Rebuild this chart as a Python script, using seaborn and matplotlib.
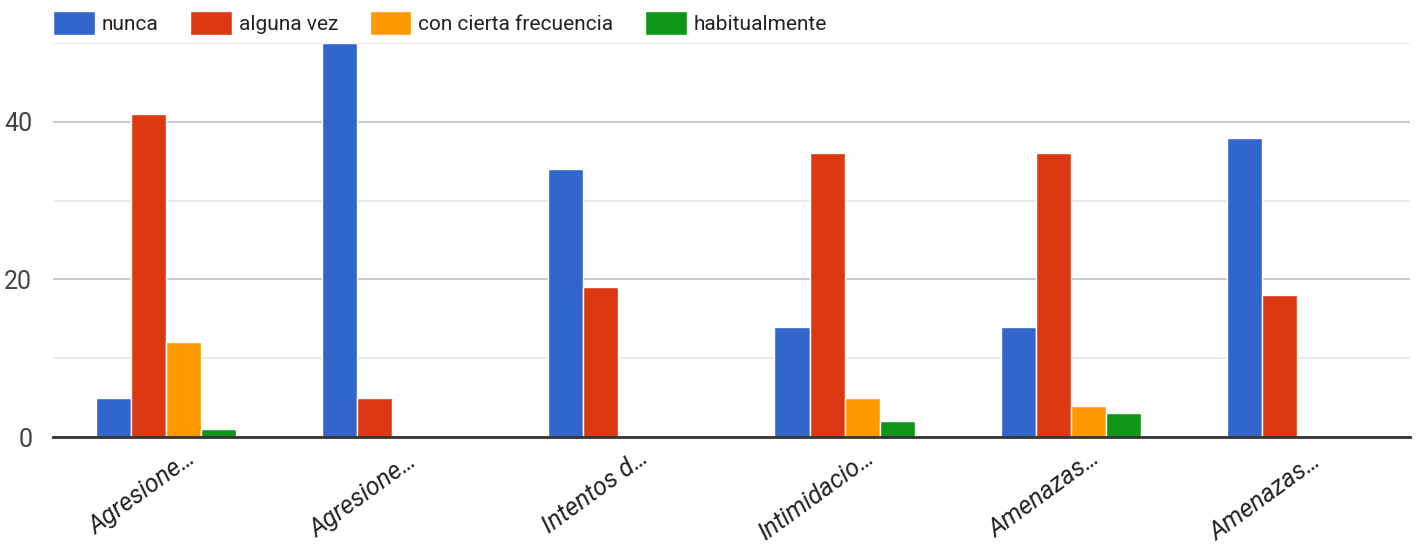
import matplotlib
matplotlib.use("Agg")
import matplotlib.pyplot as plt
import matplotlib.transforms as mtransforms
from matplotlib.patches import Patch
import pandas as pd
import seaborn as sns

# data
categories = ["Agresione…", "Agresione… ", "Intentos d…", "Intimidacio…", "Amenazas…", "Amenazas… "]
series = ["nunca", "alguna vez", "con cierta frecuencia", "habitualmente"]
nunca = [5, 50, 34, 14, 14, 38]
alguna_vez = [41, 5, 19, 36, 36, 18]
con_cierta_frecuencia = [12, 0, 0, 5, 4, 0]
habitualmente = [1, 0, 0, 2, 3, 0]
colors = ["#3366CC", "#DC3912", "#FF9900", "#109618"]

rows = []
for name, vals in zip(series, [nunca, alguna_vez, con_cierta_frecuencia, habitualmente]):
    for cat, v in zip(categories, vals):
        rows.append({"cat": cat, "serie": name, "valor": v})
df = pd.DataFrame(rows)

sns.set_style("white")
plt.rcParams["font.family"] = ["Roboto", "DejaVu Sans"]

fig = plt.figure(figsize=(14.2, 5.52), dpi=100)
ax = fig.add_axes([0.0373, 0.2083, 0.9557, 0.7137])

sns.barplot(data=df, x="cat", y="valor", hue="serie", hue_order=series,
            palette=colors, saturation=1, width=0.62, edgecolor="white",
            linewidth=1, legend=False, ax=ax)

ax.set_xlim(-0.5, len(categories) - 0.5)
ax.set_ylim(0, 50)
ax.set_yticks([0, 20, 40])
ax.set_yticks([10, 30, 50], minor=True)
ax.grid(axis="y", which="major", color="#cccccc", linewidth=1.5)
ax.grid(axis="y", which="minor", color="#ebebeb", linewidth=1.5)
ax.set_axisbelow(True)
for s in ["top", "right", "left"]:
    ax.spines[s].set_visible(False)
ax.spines["bottom"].set_color("#333333")
ax.spines["bottom"].set_linewidth(2)

ax.tick_params(axis="y", which="both", length=0, pad=15, labelsize=18, labelcolor="#444444")
ax.tick_params(axis="x", length=0, pad=6, labelsize=18, labelcolor="#222222")
ax.set_xticks(range(len(categories)))
ax.set_xticklabels(categories, rotation=36, ha="right", rotation_mode="anchor",
                   fontstyle="italic")
shift = mtransforms.ScaledTranslation(0.2, 0, fig.dpi_scale_trans)
for lbl in ax.get_xticklabels():
    lbl.set_transform(lbl.get_transform() + shift)
ax.set_xlabel("")
ax.set_ylabel("")

handles = [Patch(facecolor=c, edgecolor="white") for c in colors]
fig.legend(handles, series, loc="upper left", bbox_to_anchor=(53 / 1420, 1 - 11 / 552),
           ncol=4, frameon=False, fontsize=15, handlelength=2.0, handleheight=1.4,
           columnspacing=1.5, handletextpad=0.35, borderpad=0, borderaxespad=0,
           labelcolor="#222222")

fig.savefig("out.png", dpi=100, facecolor="white")
